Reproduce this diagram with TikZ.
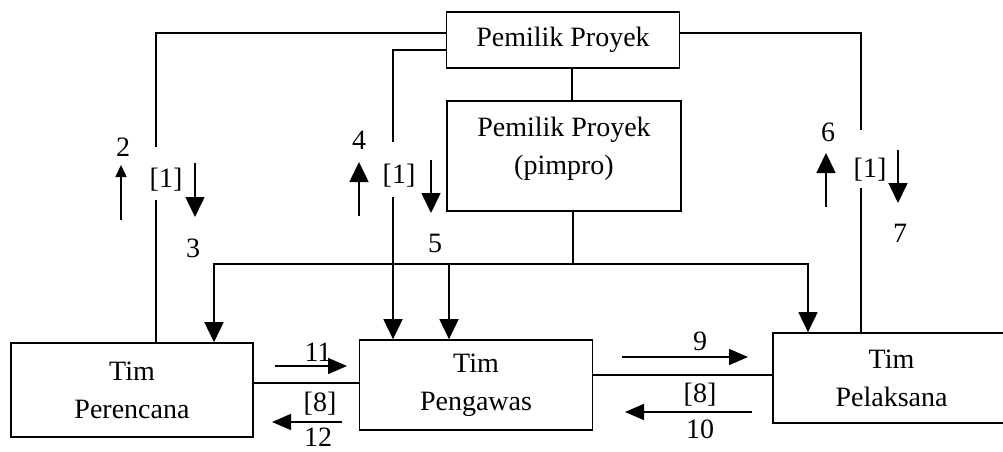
\documentclass[tikz,border=0pt]{standalone}
\usepackage{fontspec}
\setmainfont{Liberation Serif}
\usetikzlibrary{arrows.meta,calc}
\begin{document}
\begin{tikzpicture}[x=1pt,y=-1pt,
  line width=1.6pt,
  every node/.style={font=\fontsize{28}{38}\selectfont},
  box/.style={draw,line width=1.6pt,align=center,inner sep=0pt},
  lbl/.style={inner sep=0pt},
  arr/.style={-{Triangle[length=20pt,width=19pt]}},
  sarr/.style={-{Triangle[length=19pt,width=16pt]}},
  tarr/.style={-{Triangle[length=12pt,width=11pt]}}]
\clip (0,0) rectangle (1003,452);
\fill[white] (0,0) rectangle (1003,452);

% boxes
\node[box,minimum width=233pt,minimum height=56pt] (own) at (563,40) {Pemilik Proyek};
\node[box,minimum width=234pt,minimum height=110pt] (pim) at (564,156) {};
\node[lbl,align=center] (pimtxt) at (564,149) {Pemilik Proyek\\(pimpro)};
\node[box,minimum width=242pt,minimum height=94pt] (per) at (132,390) {Tim\\Perencana};
\node[box,minimum width=233pt,minimum height=90pt] (peng) at (476,385) {Tim\\Pengawas};
\node[box,minimum width=237pt,minimum height=90pt] (pel) at (891.5,378) {Tim\\Pelaksana};

% break points of the owner lines
\coordinate (g1a) at (156,147);
\coordinate (g1b) at (156,200);
\coordinate (g2a) at (393,142);
\coordinate (g2b) at (393,197);
\coordinate (g3a) at (861,130);
\coordinate (g3b) at (861,188);
\coordinate (bus) at (573,264);
\coordinate (tap) at (449,264);

% owner to the three teams
\draw (own.west |- 0,33) -| (g1a);
\draw (g1b) -- (g1b |- per.north);
\draw (own.west |- 0,50) -| (g2a);
\draw[arr] (g2b) -- (g2b |- peng.north);
\draw (own.east |- 0,33) -| (g3a);
\draw (g3b) -- (g3b |- pel.north);

% owner to pimpro, pimpro to the teams
\draw (own.south -| 572,0) -- (pim.north -| 572,0);
\draw (pim.south -| bus) -- (bus);
\draw[arr] (bus) -| (per.north -| 214,0);
\draw[arr] (bus) -| (pel.north -| 808,0);
\draw[arr] (tap) -- (tap |- peng.north);

% links between the teams
\draw (per.east |- 0,383) -- (peng.west |- 0,383);
\draw (peng.east |- 0,375) -- (pel.west |- 0,375);

% flow arrows between the teams
\coordinate (a11s) at (275,366); \coordinate (a11e) at (347,366);
\coordinate (a12s) at (342,422); \coordinate (a12e) at (272,422);
\coordinate (a9s) at (622,357);  \coordinate (a9e) at (748,357);
\coordinate (a10s) at (752,412); \coordinate (a10e) at (625,412);
\draw[sarr] (a11s) -- (a11e);
\draw[sarr] (a12s) -- (a12e);
\draw[sarr] (a9s) -- (a9e);
\draw[sarr] (a10s) -- (a10e);
\node[lbl] (n11) at (318,352) {11};
\node[lbl] (n8a) at (320,404) {[8]};
\node[lbl] (n12) at (318,437) {12};
\node[lbl] (n9) at (700,341) {9};
\node[lbl] (n8b) at (700,395) {[8]};
\node[lbl] (n10) at (700,429) {10};

% flow arrows between owner and teams
\coordinate (u2s) at (121,220); \coordinate (u2e) at (121,165);
\coordinate (d3s) at (195,163); \coordinate (d3e) at (195,217);
\coordinate (u4s) at (359,216); \coordinate (u4e) at (359,162);
\coordinate (d5s) at (431,160); \coordinate (d5e) at (431,213);
\coordinate (u6s) at (826,207); \coordinate (u6e) at (826,153);
\coordinate (d7s) at (898,150); \coordinate (d7e) at (898,203);
\draw[tarr] (u2s) -- (u2e);
\draw[arr] (d3s) -- (d3e);
\draw[arr] (u4s) -- (u4e);
\draw[arr] (d5s) -- (d5e);
\draw[arr] (u6s) -- (u6e);
\draw[arr] (d7s) -- (d7e);
\node[lbl] (n2) at (123,147) {2};
\node[lbl] (b1a) at (166,180) {[1]};
\node[lbl] (n3) at (193,248) {3};
\node[lbl] (n4) at (359,140) {4};
\node[lbl] (b1b) at (399,176) {[1]};
\node[lbl] (n5) at (435,243) {5};
\node[lbl] (n6) at (828,132) {6};
\node[lbl] (b1c) at (870,170) {[1]};
\node[lbl] (n7) at (900,233) {7};
\end{tikzpicture}
\end{document}
